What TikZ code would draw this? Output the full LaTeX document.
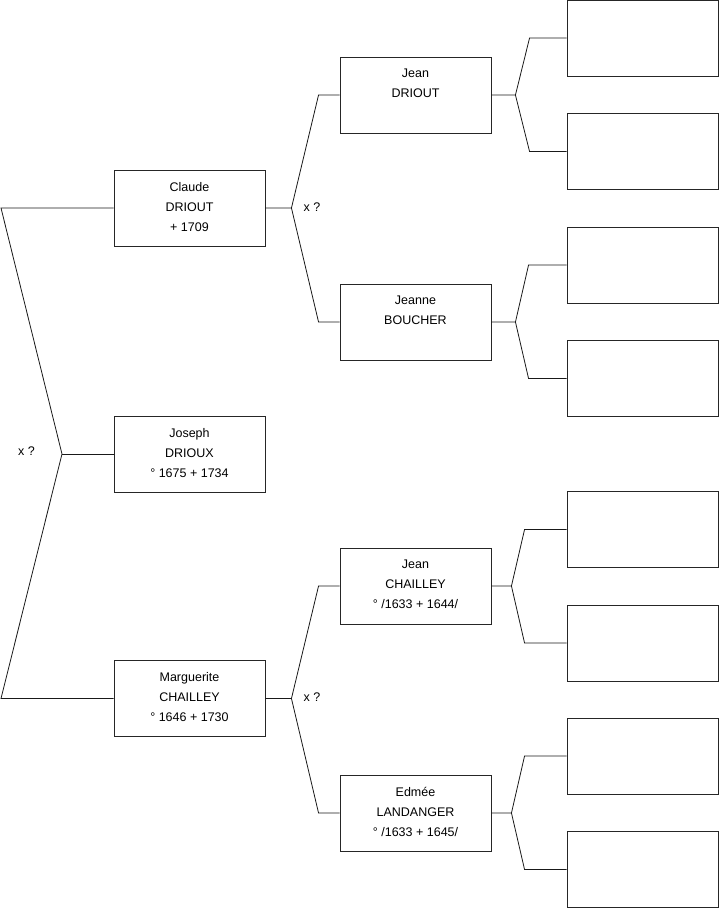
\documentclass[tikz,border=0pt]{standalone}
\usepackage{fontspec}
\setmainfont{Liberation Sans}
\usetikzlibrary{positioning}
\tikzset{
	person/.style={rectangle, draw=black!85, line width=0.9pt, minimum width=151pt, minimum height=76pt, inner sep=0pt,
		execute at begin node={\begin{minipage}[t][52pt][t]{150pt}\centering\fontsize{12.5}{20}\selectfont},
		execute at end node={\end{minipage}}},
	blank/.style={rectangle, draw=black!85, line width=0.9pt, minimum width=151pt, minimum height=76pt, inner sep=0pt},
	link/.style={draw=black!90, line width=0.8pt},
	xq/.style={font=\fontsize{12.5}{14}\selectfont, inner sep=0pt}
}

\begin{document}
\begin{tikzpicture}[x=1pt, y=-1pt]
	\useasboundingbox (0,0) rectangle (719,908);
	
	% Generation 1 et 2
	\node [person] (claude) at (189.5,208) {Claude\\DRIOUT\\+ 1709};
	\node [person] (joseph) at (189.5,454) {Joseph\\DRIOUX\\° 1675 + 1734};
	\node [person] (marguerite) at (189.5,698.5) {Marguerite\\CHAILLEY\\° 1646 + 1730};
	
	% Generation 3
	\node [person] (jeanD) at (415.5,95) {Jean\\DRIOUT};
	\node [person] (jeanneB) at (415.5,322) {Jeanne\\BOUCHER};
	\node [person] (jeanC) at (415.5,586) {Jean\\CHAILLEY\\° /1633 + 1644/};
	\node [person] (edmee) at (415.5,813) {Edmée\\LANDANGER\\° /1633 + 1645/};
	
	% Generation 4 (vide)
	\node [blank] (g1) at (642.5,38) {};
	\node [blank] (g2) at (642.5,151.5) {};
	\node [blank] (g3) at (642.5,265) {};
	\node [blank] (g4) at (642.5,378.5) {};
	\node [blank] (g5) at (642.5,529.5) {};
	\node [blank] (g6) at (642.5,643) {};
	\node [blank] (g7) at (642.5,756) {};
	\node [blank] (g8) at (642.5,869.5) {};
	
	% Union des parents
	\coordinate (f0) at (62,454);
	\coordinate (l1) at (1,208);
	\coordinate (l2) at (1,698.5);
	\draw [link] (claude.west) -- (l1) -- (f0) -- (l2) -- (marguerite.west);
	\draw [link] (f0) -- (joseph.west);
	\node [xq] (x0) at (26.5,451) {x ?};
	
	% Grands-parents
	\draw [link] (claude.east) -- ++(26,0) coordinate (f1) -- ([xshift=-21pt]jeanD.west) -- (jeanD.west);
	\draw [link] (f1) -- ([xshift=-21pt]jeanneB.west) -- (jeanneB.west);
	\node [xq] (x1) at (312,207) {x ?};
	\draw [link] (marguerite.east) -- ++(26,0) coordinate (f2) -- ([xshift=-21pt]jeanC.west) -- (jeanC.west);
	\draw [link] (f2) -- ([xshift=-21pt]edmee.west) -- (edmee.west);
	\node [xq] (x2) at (312,697) {x ?};
	
	% Arriere-grands-parents
	\foreach \p/\a/\b/\d/\e in {jeanD/g1/g2/24/37, jeanneB/g3/g4/24/38, jeanC/g5/g6/20/42, edmee/g7/g8/20/42}
		\draw [link] (\p.east) -- ++(\d,0) coordinate (fk) -- ([xshift=-\e pt]\a.west) -- (\a.west)
			(fk) -- ([xshift=-\e pt]\b.west) -- (\b.west);
\end{tikzpicture}
\end{document}
